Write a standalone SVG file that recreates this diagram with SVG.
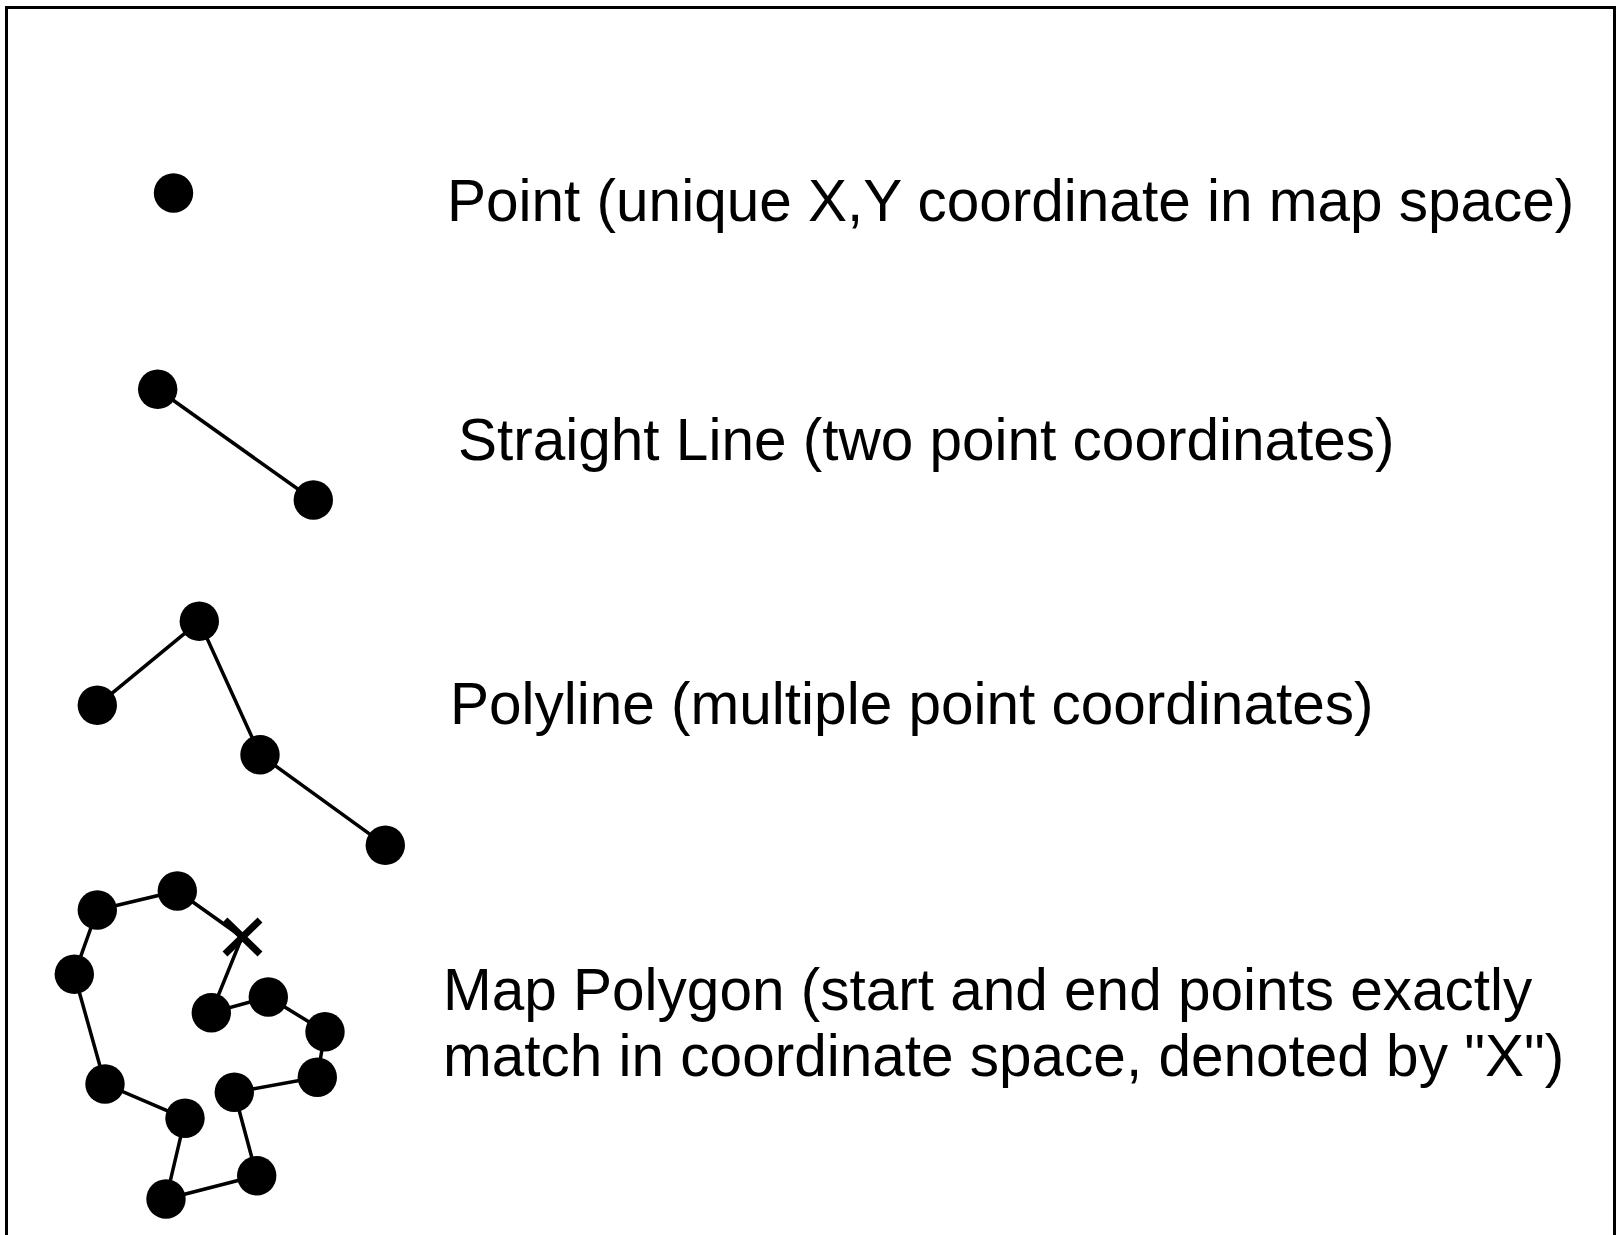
<svg xmlns="http://www.w3.org/2000/svg" width="1617" height="1235" viewBox="0 0 1617 1235">
<style>
.dot{fill:#000}
.edge{stroke:#000;stroke-width:3.5;fill:none}
.lbl{font-family:"Liberation Sans",Arial,sans-serif;font-size:58.5px;fill:#000}
.xm{stroke:#000;stroke-width:7;fill:none}
</style>
<rect x="0" y="0" width="1617" height="1235" fill="#fff"/>
<rect x="6.5" y="7.5" width="1608" height="1250" fill="none" stroke="#000" stroke-width="3"/>
<g id="connectors">
<line class="edge" x1="157.7" y1="389.3" x2="313.3" y2="500"/>
<polyline class="edge" points="97.3,705.3 199.3,621.3 260,754.7 385.3,845.3"/>
<polyline class="edge" points="242,937 177.3,891 97.3,910 74.3,974.3 105,1084 185,1118.3 166,1199 256.7,1175.7 234.3,1092.3 317.3,1077.3 325,1031.7 268.3,997 211.3,1012.7 242,937"/>
</g>
<g id="point">
<circle class="dot" cx="173.5" cy="193" r="19.7"/>
<text class="lbl" x="447" y="221">Point (unique X,Y coordinate in map space)</text>
</g>
<g id="straight-line">
<circle class="dot" cx="157.7" cy="389.3" r="19.7"/>
<circle class="dot" cx="313.3" cy="500" r="19.7"/>
<text class="lbl" x="458" y="460">Straight Line (two point coordinates)</text>
</g>
<g id="polyline">
<circle class="dot" cx="97.3" cy="705.3" r="19.7"/>
<circle class="dot" cx="199.3" cy="621.3" r="19.7"/>
<circle class="dot" cx="260" cy="754.7" r="19.7"/>
<circle class="dot" cx="385.3" cy="845.3" r="19.7"/>
<text class="lbl" x="450" y="724">Polyline (multiple point coordinates)</text>
</g>
<g id="map-polygon">
<circle class="dot" cx="97.3" cy="910" r="19.7"/>
<circle class="dot" cx="177.3" cy="891" r="19.7"/>
<circle class="dot" cx="211.3" cy="1012.7" r="19.7"/>
<circle class="dot" cx="268.3" cy="997" r="19.7"/>
<circle class="dot" cx="325" cy="1031.7" r="19.7"/>
<circle class="dot" cx="317.3" cy="1077.3" r="19.7"/>
<circle class="dot" cx="234.3" cy="1092.3" r="19.7"/>
<circle class="dot" cx="256.7" cy="1175.7" r="19.7"/>
<circle class="dot" cx="166" cy="1199" r="19.7"/>
<circle class="dot" cx="185" cy="1118.3" r="19.7"/>
<circle class="dot" cx="105" cy="1084" r="19.7"/>
<circle class="dot" cx="74.3" cy="974.3" r="19.7"/>
<path class="xm" d="M225,920 L260,954 M260,920 L225,954"/>
<text class="lbl" x="443" y="1010">Map Polygon (start and end points exactly</text>
<text class="lbl" x="443" y="1076">match in coordinate space, denoted by "X")</text>
</g>
</svg>
